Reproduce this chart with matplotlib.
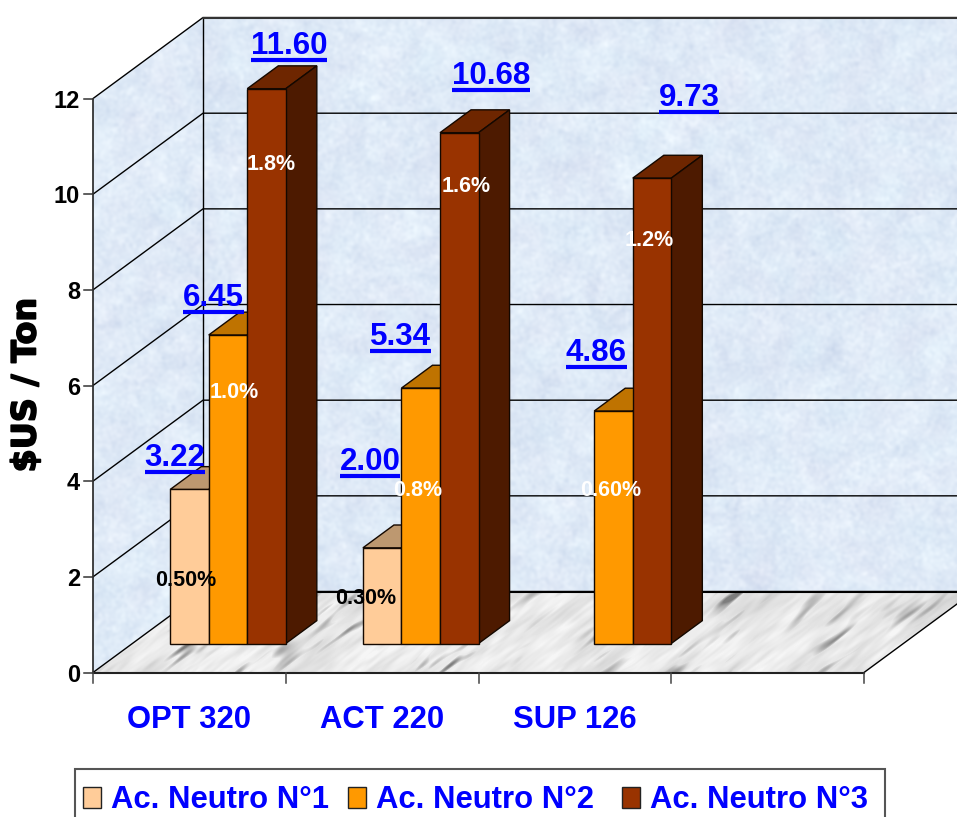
import numpy as np
import matplotlib
matplotlib.use("Agg")
import matplotlib.pyplot as plt
import matplotlib.patheffects as pe
from matplotlib.patches import Polygon, Rectangle

plt.rcParams['font.family'] = ['Liberation Sans', 'DejaVu Sans']
plt.rcParams['font.weight'] = 'bold'

categories = ['OPT 320', 'ACT 220', 'SUP 126']
series_names = ['Ac. Neutro N°1', 'Ac. Neutro N°2', 'Ac. Neutro N°3']
neutro1 = [3.22, 2.00, None]
neutro2 = [6.45, 5.34, 4.86]
neutro3 = [11.60, 10.68, 9.73]
percent1 = ['0.50%', '0.30%', None]
percent2 = ['1.0%', '0.8%', '0.60%']
percent3 = ['1.8%', '1.6%', '1.2%']
y_ticks = [0, 2, 4, 6, 8, 10, 12]

face_colors = ['#FFCC99', '#FF9900', '#993300']
top_colors = ['#BD9870', '#BF7300', '#6E2600']
side_colors = ['#7F6650', '#7F4C00', '#4D1A00']

# label placement in figure pixels, measured from the top left corner
value_xy = [[(175, 466), (370, 470), None],
            [(213, 306), (400, 345), (596, 361)],
            [(289, 54), (491, 84), (689, 106)]]
percent_xy = [[(186, 581), (366, 599), None],
              [(234, 393), (418, 491), (611, 491)],
              [(271, 165), (466, 186), (649, 240)]]
percent_col = ['black', 'white', 'white']
legend_x = [83, 348, 622]

W, H = 957, 817
X0, Y0 = 93, 672.5        # origin of the plot box
CAT_PX = 192.75           # width of one category
VAL_PX = 47.83            # height of one y unit
DEPTH_X, DEPTH_Y = 110, 81
BAR_W = 0.2
BAR_GAP = 0.196
DEPTH_A, DEPTH_B = 0.358, 0.64
N_CAT = 4


def proj(cat, val, depth=0.0):
    # oblique projection onto the flat axes
    return (cat + depth * DEPTH_X / CAT_PX, val + depth * DEPTH_Y / VAL_PX)


def at(px, py):
    return ((px - X0) / CAT_PX, (Y0 - py) / VAL_PX)


def soft_noise(rng, sx, sy, angle=0.0):
    # white noise smoothed in the frequency domain, long axis along angle
    a = rng.standard_normal((H, W))
    fy = np.fft.fftfreq(H)[:, None]
    fx = np.fft.fftfreq(W)[None, :]
    c, s = np.cos(np.radians(angle)), np.sin(np.radians(angle))
    u = fx * c - fy * s
    v = fx * s + fy * c
    g = np.exp(-2 * np.pi ** 2 * ((u * sx) ** 2 + (v * sy) ** 2))
    out = np.fft.ifft2(np.fft.fft2(a) * g).real
    return (out - out.mean()) / out.std()


rng = np.random.default_rng(7)

# pale blue mottled wall
n1 = soft_noise(rng, 7, 7)
n2 = soft_noise(rng, 1.6, 1.6)
n3 = soft_noise(rng, 9, 9)
wall = np.zeros((H, W, 3))
wall[..., 0] = 223 + 2.5 * n1 + 3 * n2 + 1 * n3
wall[..., 1] = 234 + 2.5 * n1 + 2.5 * n2
wall[..., 2] = 247 + 1.5 * n1 + 1.5 * n2
wall = np.clip(wall, 0, 255).astype(np.uint8)

# grey veined floor
m1 = soft_noise(rng, 22, 5, 38)
m2 = soft_noise(rng, 12, 2.0, 38)
m3 = soft_noise(rng, 20, 12, 38)
m4 = soft_noise(rng, 7, 1.2, 38)
veins = np.clip(m2 - 0.6, 0, 2.5) * np.clip(m3 + 0.8, 0.15, 2.4)
marble = 234 + 6 * m1 + 4 * m4 - 30 * veins
marble = np.clip(marble, 125, 246).astype(np.uint8)

fig = plt.figure(figsize=(W / 100, H / 100), dpi=100, facecolor='white')
ax = fig.add_axes([0, 0, 1, 1])
ax.axis('off')
xlim = (-X0 / CAT_PX, (W - X0) / CAT_PX)
ylim = (-(H - Y0) / VAL_PX, Y0 / VAL_PX)

top = y_ticks[-1]
back_wall = [proj(0, 0, 1), proj(N_CAT, 0, 1), proj(N_CAT, top, 1), proj(0, top, 1)]
side_wall = [proj(0, 0, 0), proj(0, 0, 1), proj(0, top, 1), proj(0, top, 0)]
floor = [proj(0, 0, 0), proj(N_CAT, 0, 0), proj(N_CAT, 0, 1), proj(0, 0, 1)]
extent = (xlim[0], xlim[1], ylim[0], ylim[1])

for pts, img, kw in [(back_wall, wall, {}), (side_wall, wall, {}),
                     (floor, marble, {'cmap': 'gray', 'vmin': 0, 'vmax': 255})]:
    im = ax.imshow(img, extent=extent, aspect='auto', origin='upper',
                   interpolation='bilinear', zorder=1, **kw)
    clip = Polygon(pts, closed=True, transform=ax.transData, fc='none', ec='none')
    ax.add_patch(clip)
    im.set_clip_path(clip)

# gridlines on both walls
for v in y_ticks:
    xs, ys = zip(proj(0, v, 0), proj(0, v, 1), proj(N_CAT, v, 1))
    ax.plot(xs, ys, color='black', lw=1.0, zorder=2, solid_capstyle='butt')
xs, ys = zip(proj(0, 0, 1), proj(N_CAT, 0, 1))
ax.plot(xs, ys, color='black', lw=1.5, zorder=2)
xs, ys = zip(proj(0, 0, 1), proj(0, top, 1))
ax.plot(xs, ys, color='black', lw=1.0, zorder=2)
xs, ys = zip(proj(0, top, 1), proj(N_CAT, top, 1))
ax.plot(xs, ys, color='#333333', lw=1.5, zorder=2)

# front edges and axes
xs, ys = zip(proj(0, 0, 0), proj(N_CAT, 0, 0))
ax.plot(xs, ys, color='#222222', lw=1.5, zorder=3)
xs, ys = zip(proj(N_CAT, 0, 0), proj(N_CAT, 0, 1))
ax.plot(xs, ys, color='black', lw=1.0, zorder=3)
xs, ys = zip(proj(0, 0, 0), proj(0, top, 0))
ax.plot(xs, ys, color='#222222', lw=1.2, zorder=3)

tick_x = 9 / CAT_PX
tick_y = 10 / VAL_PX
for v in y_ticks:
    ax.plot([-tick_x, 0], [v, v], color='#333333', lw=1.1, zorder=3)
    ax.text(-13 / CAT_PX, v, str(v), ha='right', va='center_baseline', fontsize=17, color='black')
for c in range(N_CAT + 1):
    ax.plot([c, c], [0, -tick_y], color='#444444', lw=1.1, zorder=3)
for c, name in enumerate(categories):
    ax.text(c + 0.5, -55 / VAL_PX, name, ha='center', va='baseline', fontsize=22.3, color='#0000FF')


def draw_bar(cat, idx, val, z):
    x0 = cat + BAR_GAP + idx * BAR_W
    x1 = x0 + BAR_W
    front = [proj(x0, 0, DEPTH_A), proj(x1, 0, DEPTH_A), proj(x1, val, DEPTH_A), proj(x0, val, DEPTH_A)]
    side = [proj(x1, 0, DEPTH_A), proj(x1, 0, DEPTH_B), proj(x1, val, DEPTH_B), proj(x1, val, DEPTH_A)]
    lid = [proj(x0, val, DEPTH_A), proj(x1, val, DEPTH_A), proj(x1, val, DEPTH_B), proj(x0, val, DEPTH_B)]
    for pts, col in [(lid, top_colors[idx]), (side, side_colors[idx]), (front, face_colors[idx])]:
        ax.add_patch(Polygon(pts, closed=True, fc=col, ec='#140800', lw=1.0, zorder=z, joinstyle='miter'))


series = [neutro1, neutro2, neutro3]
percents = [percent1, percent2, percent3]
for c in range(len(categories)):
    for i, vals in enumerate(series):
        if vals[c] is not None:
            draw_bar(c, i, vals[c], 4 + c * 0.1 + i * 0.01)

ax.set_xlim(*xlim)
ax.set_ylim(*ylim)

# value labels are underlined by hand, matplotlib text has no underline
renderer = fig.canvas.get_renderer()
inv = ax.transData.inverted()
for i, vals in enumerate(series):
    for c, v in enumerate(vals):
        if v is None:
            continue
        px, py = value_xy[i][c]
        t = ax.text(*at(px, py), f'{v:.2f}', ha='center', va='baseline', fontsize=22.5,
                    color='#0000FF', zorder=8)
        box = t.get_window_extent(renderer)
        x_a = inv.transform((box.x0, 0))[0]
        x_b = inv.transform((box.x1, 0))[0]
        uy = at(px, py + 5.5)[1]
        ax.plot([x_a, x_b], [uy, uy], color='#0000FF', lw=3.0, zorder=8, solid_capstyle='butt')

for i, labels in enumerate(percents):
    for c, s in enumerate(labels):
        if s is None:
            continue
        ax.text(*at(*percent_xy[i][c]), s, ha='center', va='center', fontsize=15.5,
                color=percent_col[i], zorder=9)

ax.text(*at(26, 385), '$US / Ton', rotation=90, ha='center', va='center', fontsize=24,
        family=['DejaVu Sans'], fontweight='bold', color='black',
        path_effects=[pe.withStroke(linewidth=1.2, foreground='black')])

# legend box runs off the bottom of the figure
ax.add_patch(Rectangle(at(74.5, 830), 810 / CAT_PX, 61 / VAL_PX, fc='white', ec='#555555',
                       lw=1.5, zorder=10))
for lx, col, name in zip(legend_x, face_colors, series_names):
    ax.add_patch(Rectangle(at(lx, 808), 18 / CAT_PX, 21 / VAL_PX, fc=col, ec='#222222',
                           lw=1.0, zorder=11))
    ax.text(*at(lx + 28, 808), name, ha='left', va='baseline', fontsize=22.3,
            color='#0000FF', zorder=11)

fig.savefig('out.png', dpi=100)
